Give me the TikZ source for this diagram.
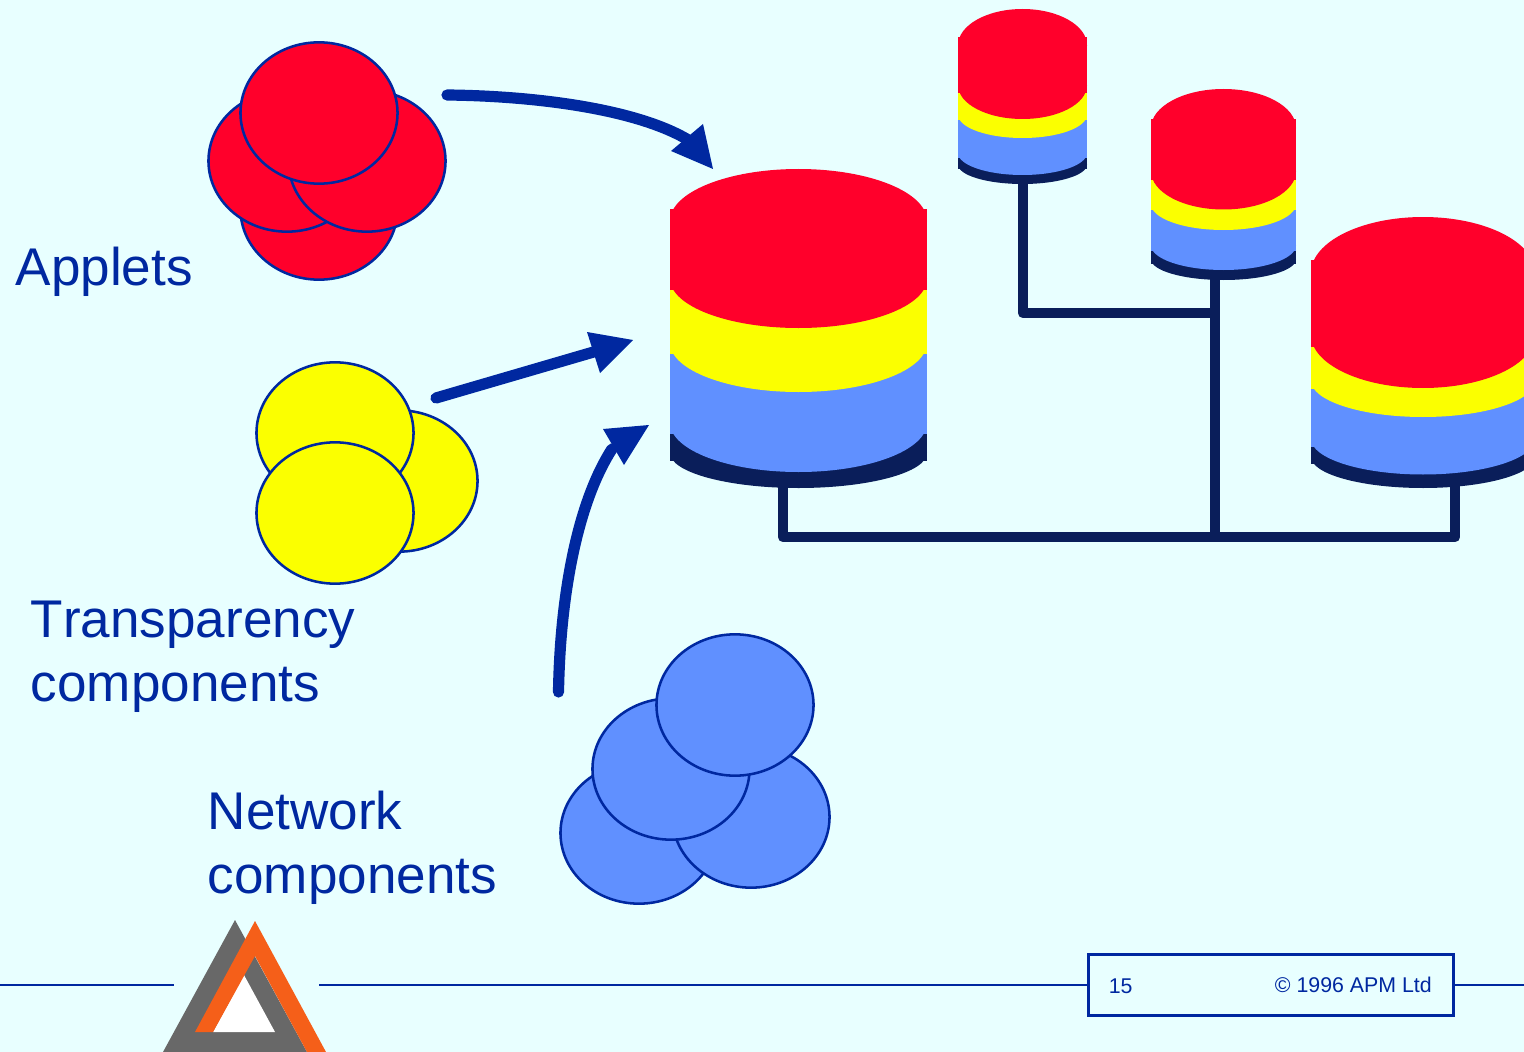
\documentclass[tikz,border=0pt]{standalone}
\usepackage{fontspec}
\setmainfont{Liberation Sans}
\newfontfamily\bigf[Kerning=Off]{Liberation Sans}
\usetikzlibrary{shapes.geometric}
\definecolor{bgc}{HTML}{E8FFFF}
\definecolor{redc}{HTML}{FF002B}
\definecolor{yelc}{HTML}{FBFF00}
\definecolor{bluc}{HTML}{6090FF}
\definecolor{navyc}{HTML}{0A1E5A}
\definecolor{inkc}{HTML}{0028A0}
\definecolor{greyc}{HTML}{686868}
\definecolor{orgc}{HTML}{F55F19}
\tikzset{
  blob/.style={ellipse,draw=inkc,line width=1.9pt,inner sep=0pt,minimum width=117.8pt,minimum height=106pt},
  bigtext/.style={anchor=base west,text=inkc,font=\bigf\fontsize{39.8}{48}\selectfont,inner sep=0pt},
  foot/.style={text=inkc,font=\fontsize{16}{19}\selectfont,inner sep=0pt},
  bus/.style={draw=navyc,line width=8pt,line join=round},
  flow/.style={draw=inkc,line width=8.4pt,line cap=round},
  rule/.style={draw=inkc,line width=2.1pt},
}
\begin{document}
\begin{tikzpicture}[x=0.75pt,y=-0.75pt]
\useasboundingbox (0,0) rectangle (1524,1052);
\fill[bgc] (0,0) rectangle (1524,1052);
\begin{scope}
\clip (0,0) rectangle (1524,1052);
% bus
\coordinate (cylAb) at (783,480);
\coordinate (cylBb) at (1023,175);
\coordinate (cylCb) at (1215,270);
\coordinate (cylDb) at (1455,480);
\coordinate (busL) at (783,537);
\coordinate (busM) at (1215,537);
\coordinate (busR) at (1455,537);
\coordinate (busU) at (1023,313);
\coordinate (busT) at (1215,313);
\draw[bus] (cylAb) -- (busL) -- (busR) -- (cylDb);
\draw[bus] (cylCb) -- (busM);
\draw[bus] (cylBb) -- (busU) -- (busT);
% cylinders: centre, half width, rect top, top depth, red end, red depth, yellow end, yellow depth, blue end, blue depth, dark end, dark depth
\foreach \c/\h/\t/\tr/\ra/\rb/\ya/\yb/\ba/\bb/\da/\db in {
  798.5/128.5/209/40/290/38/354/38/434/38/461/27,
  1022.5/64.5/37/28/93/26/120/18/158/17/169/15,
  1223.5/72.5/119/30/180/29.5/210/20/251/19/264/16,
  1423/112/260/43/347/41/389/28/447/27.5/464/24}{
  \fill[navyc] (\c-\h,\ba) rectangle (\c+\h,\da);
  \fill[navyc] (\c,\da-0.3*\db) ellipse[x radius=\h,y radius=1.3*\db];
  \fill[bluc] (\c-\h,\ya) rectangle (\c+\h,\ba);
  \fill[bluc] (\c,\ba-0.3*\bb) ellipse[x radius=\h,y radius=1.3*\bb];
  \fill[yelc] (\c-\h,\ra) rectangle (\c+\h,\ya);
  \fill[yelc] (\c,\ya-0.3*\yb) ellipse[x radius=\h,y radius=1.3*\yb];
  \fill[redc] (\c-\h,\t) rectangle (\c+\h,\ra);
  \fill[redc] (\c,\ra-0.3*\rb) ellipse[x radius=\h,y radius=1.3*\rb];
  \fill[redc] (\c,\t+0.3*\tr) ellipse[x radius=\h,y radius=1.3*\tr];
}
\end{scope}
% red cluster
\node[blob,fill=redc] (r4) at (319,209) {};
\node[blob,fill=redc] (r2) at (287,161) {};
\node[blob,fill=redc] (r3) at (367,161) {};
\node[blob,fill=redc] (r1) at (319,113) {};
% yellow cluster
\node[blob,fill=yelc] (y3) at (399,481) {};
\node[blob,fill=yelc] (y1) at (335,433) {};
\node[blob,fill=yelc] (y2) at (335,513) {};
% blue cluster
\node[blob,fill=bluc] (b4) at (639,833) {};
\node[blob,fill=bluc] (b3) at (751,817) {};
\node[blob,fill=bluc] (b2) at (671,769) {};
\node[blob,fill=bluc] (b1) at (735,705) {};
% arrows
\coordinate (a1s) at (447,95);
\coordinate (a1e) at (690,141);
\coordinate (a1t) at (713,169);
\coordinate (a1u) at (703,124);
\coordinate (a1v) at (671,151);
\draw[flow] (a1s) .. controls (540,96) and (640,110) .. (a1e);
\fill[inkc] (a1t) -- (a1u) -- (a1v) -- cycle;
\coordinate (a2s) at (436,398);
\coordinate (a2e) at (597,351);
\coordinate (a2t) at (633,340);
\coordinate (a2u) at (587,332);
\coordinate (a2v) at (600,373);
\draw[flow] (a2s) -- (a2e);
\fill[inkc] (a2t) -- (a2u) -- (a2v) -- cycle;
\coordinate (a3s) at (558.5,692);
\coordinate (a3e) at (612,449);
\coordinate (a3t) at (649,425);
\coordinate (a3u) at (603,429);
\coordinate (a3v) at (624,465);
\draw[flow] (a3s) .. controls (560,600) and (576,505) .. (a3e);
\fill[inkc] (a3t) -- (a3u) -- (a3v) -- cycle;
% labels
\node[bigtext] (t1) at (15.5,285) {Applets};
\node[bigtext] (t2) at (30.5,637.5) {Transparency};
\node[bigtext] (t3) at (30.5,701.5) {components};
\node[bigtext] (t4) at (207.5,829.5) {Network};
\node[bigtext] (t5) at (207.5,893.5) {components};
% logo
\fill[greyc] (235,920) -- (163,1052) -- (307,1052) -- cycle;
\fill[white] (244,975) -- (275,1032) -- (213,1032) -- cycle;
\fill[orgc] (255,921) -- (326,1052) -- (307,1052) -- (255,956) -- (213,1032) -- (195,1032) -- cycle;
% footer
\coordinate (l1a) at (0,985);
\coordinate (l1b) at (174,985);
\coordinate (l2a) at (319,985);
\coordinate (l3b) at (1524,985);
\node[draw=inkc,line width=2.1pt,inner sep=0pt,minimum width=274pt,minimum height=46pt] (box) at (1271,985) {};
\draw[rule] (l1a) -- (l1b);
\draw[rule] (l2a) -- (box.west);
\draw[rule] (box.east) -- (l3b);
\node[foot,anchor=base west] (pg) at (1108.5,993) {15};
\node[foot,anchor=base east] (cr) at (1432,992) {© 1996 APM Ltd};
\end{tikzpicture}
\end{document}
